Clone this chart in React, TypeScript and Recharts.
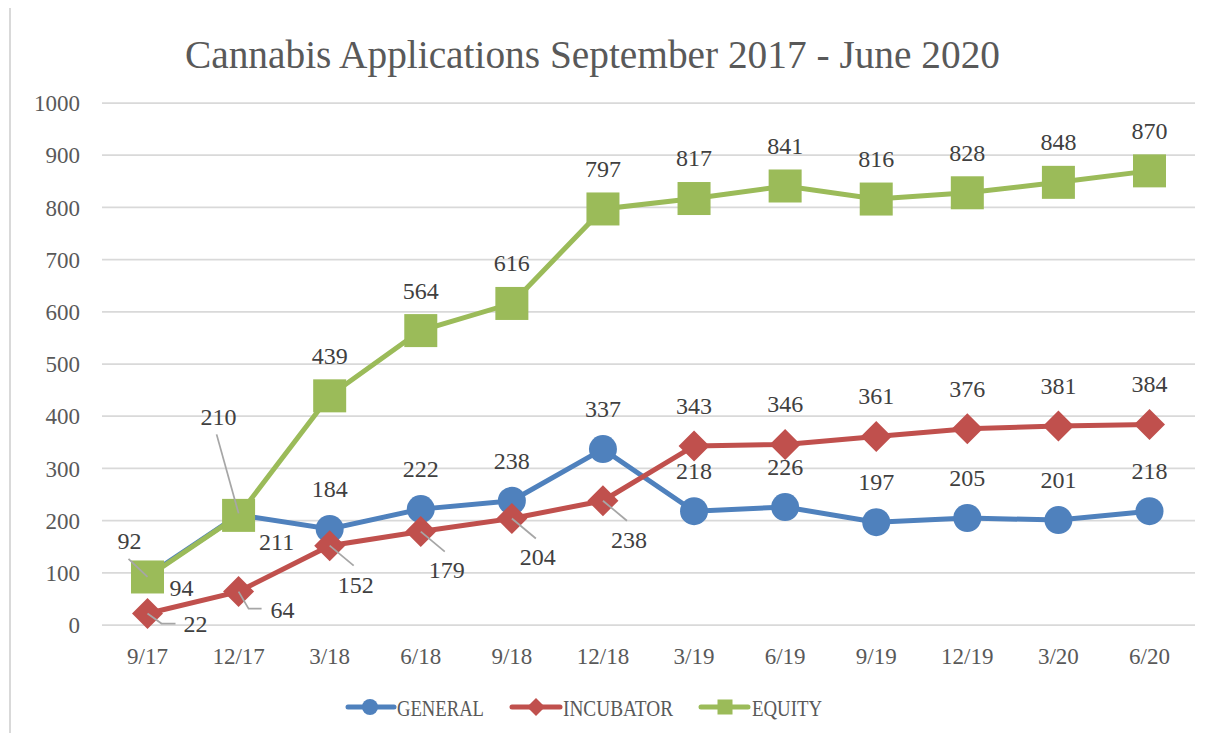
import React from 'react';
import { LineChart, Line, XAxis, YAxis, CartesianGrid, LabelList } from 'recharts';

const categories = ['9/17', '12/17', '3/18', '6/18', '9/18', '12/18', '3/19', '6/19', '9/19', '12/19', '3/20', '6/20'];
const generalValues = [94, 211, 184, 222, 238, 337, 218, 226, 197, 205, 201, 218];
const incubatorValues = [22, 64, 152, 179, 204, 238, 343, 346, 361, 376, 381, 384];
const equityValues = [92, 210, 439, 564, 616, 797, 817, 841, 816, 828, 848, 870];
const yTicks = [0, 100, 200, 300, 400, 500, 600, 700, 800, 900, 1000];

const seriesNames = ['GENERAL', 'INCUBATOR', 'EQUITY'];
const title = 'Cannabis Applications September 2017 - June 2020';

const data = categories.map((c, i) => ({
  cat: c,
  general: generalValues[i],
  incubator: incubatorValues[i],
  equity: equityValues[i],
}));

const BLUE = '#4F81BD';
const RED = '#C0504D';
const GREEN = '#9BBB59';
const LABEL_COLOR = '#404040';
const TEXT_GRAY = '#595959';
const LEADER = '#A6A6A6';
const SERIF = '"Liberation Serif", serif';

function circleDot(p: any) {
  if (p.cx == null || p.cy == null) return <g key={p.key ?? p.index} />;
  return <circle key={`g-${p.index}`} cx={p.cx} cy={p.cy} r={14} fill={BLUE} />;
}
function diamondDot(p: any) {
  if (p.cx == null || p.cy == null) return <g key={p.key ?? p.index} />;
  const { cx, cy } = p;
  const s = 15.5;
  return (
    <polygon
      key={`i-${p.index}`}
      points={`${cx},${cy - s} ${cx + s},${cy} ${cx},${cy + s} ${cx - s},${cy}`}
      fill={RED}
    />
  );
}
function squareDot(p: any) {
  if (p.cx == null || p.cy == null) return <g key={p.key ?? p.index} />;
  const s = 33;
  return <rect key={`e-${p.index}`} x={p.cx - s / 2} y={p.cy - s / 2} width={s} height={s} fill={GREEN} />;
}

function placement(series: string, i: number, x: number, y: number) {
  let dx = 0;
  let dy = -40;
  let leader: number[][] | null = null;
  if (series === 'equity') {
    if (i === 0) {
      dx = -18; dy = -36;
      leader = [[x, y], [x - 19, y - 18]];
    } else if (i === 1) {
      dx = -20; dy = -98;
      leader = [[x, y - 2], [x - 22, y - 81]];
    }
  } else if (series === 'general') {
    if (i === 0) { dx = 34; dy = 12; }
    else if (i === 1) { dx = 38; dy = 27; }
  } else if (series === 'incubator') {
    if (i === 0) {
      dx = 48; dy = 11;
      leader = [[x, y], [x + 14, y + 10], [x + 28, y + 10]];
    } else if (i === 1) {
      dx = 44; dy = 18;
      leader = [[x, y], [x + 10, y + 17], [x + 23, y + 17]];
    } else if (i <= 5) {
      dx = 26; dy = 39;
      leader = [[x, y], [x + 24, y + 20]];
    }
  }
  return { dx, dy, leader };
}

function makeLabel(series: string) {
  return (p: any) => {
    const vb = p.viewBox || {};
    const x = Number(vb.x ?? p.x);
    const y = Number(vb.y ?? p.y);
    const i = p.index;
    const { dx, dy, leader } = placement(series, i, x, y);
    return (
      <g key={`${series}-lbl-${i}`}>
        {leader && (
          <polyline
            points={leader.map((pt) => pt.join(',')).join(' ')}
            fill="none"
            stroke={LEADER}
            strokeWidth={1.75}
          />
        )}
        <text
          x={x + dx}
          y={y + dy}
          dy="0.33em"
          textAnchor="middle"
          fontFamily={SERIF}
          fontSize={24}
          fill={LABEL_COLOR}
        >
          {p.value}
        </text>
      </g>
    );
  };
}

const legendItems = [
  { name: seriesNames[0], color: BLUE, x1: 348, x2: 394, mx: 370, tx: 397, tw: 87, shape: 'circle' },
  { name: seriesNames[1], color: RED, x1: 512, x2: 560, mx: 536, tx: 563, tw: 110, shape: 'diamond' },
  { name: seriesNames[2], color: GREEN, x1: 701, x2: 748, mx: 725, tx: 752, tw: 70, shape: 'square' },
];

export default function App() {
  const tickStyle = { fill: TEXT_GRAY, fontSize: 23, fontFamily: SERIF };
  return (
    <div style={{ position: 'relative', width: 1209, height: 741, margin: -8, background: '#fff', overflow: 'hidden' }}>
      <div
        style={{
          position: 'absolute', left: 9, top: 5, width: 1260, height: 800,
          border: '2px solid #D9D9D9', boxSizing: 'border-box',
        }}
      />
      <div style={{ position: 'absolute', left: 0, top: 0 }}>
        <LineChart width={1209} height={741} data={data} margin={{ top: 103, right: 14, bottom: 76, left: 42 }}>
          <CartesianGrid vertical={false} stroke="#D9D9D9" strokeWidth={1.75} />
          <XAxis
            dataKey="cat"
            axisLine={false}
            tickLine={false}
            tickSize={0}
            tickMargin={23}
            height={40}
            padding={{ left: 45.5, right: 45.5 }}
            tick={tickStyle}
            interval={0}
          />
          <YAxis
            domain={[0, 1000]}
            ticks={yTicks}
            axisLine={false}
            tickLine={false}
            tickSize={0}
            tickMargin={22}
            width={60}
            tick={tickStyle}
            interval={0}
          />
          <Line
            dataKey="general"
            stroke={BLUE}
            strokeWidth={5}
            dot={circleDot}
            activeDot={false}
            isAnimationActive={false}
          >
            <LabelList dataKey="general" content={makeLabel('general')} />
          </Line>
          <Line
            dataKey="incubator"
            stroke={RED}
            strokeWidth={5}
            dot={diamondDot}
            activeDot={false}
            isAnimationActive={false}
          >
            <LabelList dataKey="incubator" content={makeLabel('incubator')} />
          </Line>
          <Line
            dataKey="equity"
            stroke={GREEN}
            strokeWidth={5}
            dot={squareDot}
            activeDot={false}
            isAnimationActive={false}
          >
            <LabelList dataKey="equity" content={makeLabel('equity')} />
          </Line>
        </LineChart>
      </div>
      <svg width={1209} height={741} style={{ position: 'absolute', left: 0, top: 0, pointerEvents: 'none' }}>
        <text
          x={185}
          y={68}
          fontFamily={SERIF}
          fontSize={39}
          fill={TEXT_GRAY}
          textLength={815}
          lengthAdjust="spacingAndGlyphs"
        >
          {title}
        </text>
        {legendItems.map((it) => (
          <g key={it.name}>
            <line x1={it.x1} y1={707} x2={it.x2} y2={707} stroke={it.color} strokeWidth={5} strokeLinecap="round" />
            {it.shape === 'circle' && <circle cx={it.mx} cy={707} r={8} fill={it.color} />}
            {it.shape === 'diamond' && (
              <polygon
                points={`${it.mx},${707 - 9} ${it.mx + 9},707 ${it.mx},${707 + 9} ${it.mx - 9},707`}
                fill={it.color}
              />
            )}
            {it.shape === 'square' && <rect x={it.mx - 7.5} y={699.5} width={15} height={15} fill={it.color} />}
            <text
              x={it.tx}
              y={716}
              fontFamily={SERIF}
              fontSize={24}
              fill={TEXT_GRAY}
              textLength={it.tw}
              lengthAdjust="spacingAndGlyphs"
            >
              {it.name}
            </text>
          </g>
        ))}
      </svg>
    </div>
  );
}
